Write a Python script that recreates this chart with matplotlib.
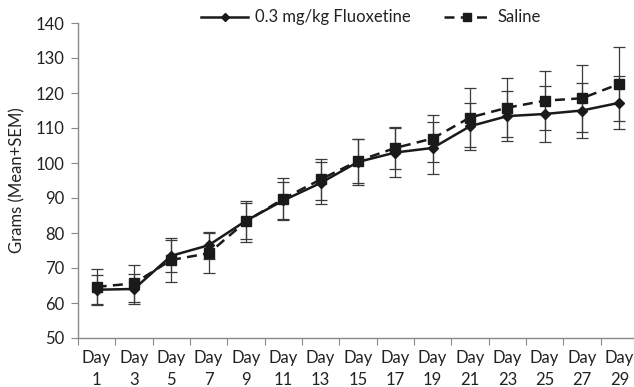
import matplotlib
matplotlib.use("Agg")
import matplotlib.pyplot as plt
import numpy as np

days = ["Day\n1", "Day\n3", "Day\n5", "Day\n7", "Day\n9", "Day\n11", "Day\n13", "Day\n15",
        "Day\n17", "Day\n19", "Day\n21", "Day\n23", "Day\n25", "Day\n27", "Day\n29"]
fluox_mean = [63.8, 64.0, 73.5, 76.5, 83.5, 89.3, 94.3, 100.3, 103.0, 104.3, 110.5, 113.4, 114.0, 115.0, 117.2]
fluox_sem = [4.1, 4.3, 4.5, 3.9, 5.2, 5.3, 6.0, 6.5, 7.0, 7.5, 6.7, 7.2, 8.0, 7.8, 7.6]
saline_mean = [64.6, 65.6, 72.3, 74.2, 83.3, 89.8, 95.3, 100.6, 104.3, 107.0, 113.0, 115.8, 117.8, 118.5, 122.6]
saline_sem = [5.2, 5.4, 6.2, 5.7, 5.8, 6.0, 5.9, 6.3, 6.0, 6.6, 8.5, 8.5, 8.5, 9.5, 10.5]
yticks = [50, 60, 70, 80, 90, 100, 110, 120, 130, 140]

plt.rcParams['font.family'] = ['Lato', 'DejaVu Sans']

fig = plt.figure(figsize=(6.34, 3.87), dpi=100)
ax = fig.add_axes([78/634, 49/387, 560/634, 315/387])

x = np.arange(len(days))
ecol = '#3a3a3a'
ax.errorbar(x, saline_mean, yerr=saline_sem, fmt='none', ecolor=ecol, elinewidth=0.9,
            capsize=4.5, capthick=0.9, zorder=2)
ax.errorbar(x, fluox_mean, yerr=fluox_sem, fmt='none', ecolor=ecol, elinewidth=0.9,
            capsize=4.5, capthick=0.9, zorder=2)
ax.plot(x, fluox_mean, color='#1a1a1a', lw=1.8, marker='D', markersize=5.5,
        label='0.3 mg/kg Fluoxetine', zorder=3)
ax.plot(x, saline_mean, color='#1a1a1a', lw=1.8, ls=(0, (4, 2.5)), marker='s', markersize=6.5,
        label='Saline', zorder=4)

ax.set_xlim(-0.5, len(days) - 0.5)
ax.set_ylim(50, 140)
ax.set_yticks(yticks)
ax.set_xticks(np.arange(len(days) + 1) - 0.5)
ax.set_xticklabels([])
ax.set_xticks(x, minor=True)
ax.set_xticklabels(days, minor=True, linespacing=1.45)
ax.tick_params(axis='x', which='minor', length=0, pad=9, labelsize=12, colors='#222222')
ax.tick_params(axis='x', which='major', length=5, direction='out', color='#888888')
ax.tick_params(axis='y', length=5, direction='out', color='#888888', labelsize=12,
               labelcolor='#222222', pad=5)
for s in ['top', 'right']:
    ax.spines[s].set_visible(False)
for s in ['left', 'bottom']:
    ax.spines[s].set_color('#888888')
    ax.spines[s].set_linewidth(1.0)

ax.set_ylabel('Grams (Mean+SEM)', fontsize=12, color='#222222', labelpad=7)

leg = fig.legend(loc='center', bbox_to_anchor=(0.585, 0.955), ncol=2, frameon=False,
                 fontsize=12, handlelength=2.8, columnspacing=2.0, handletextpad=0.4,
                 markerscale=0.8)
for t in leg.get_texts():
    t.set_color('#222222')

fig.savefig('out.png', dpi=100)
